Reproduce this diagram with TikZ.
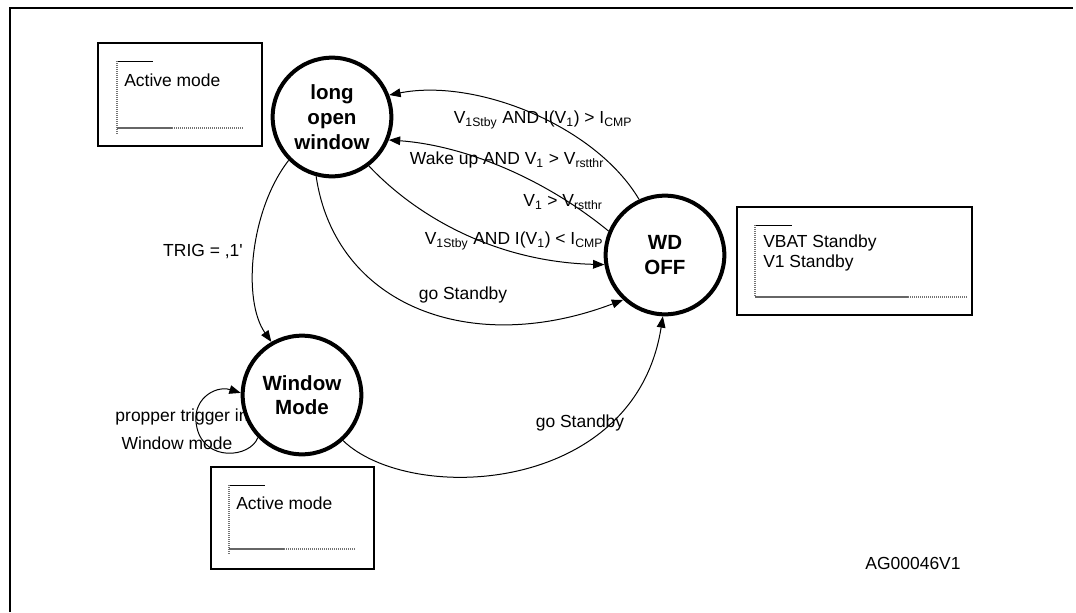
\documentclass[tikz,border=0pt]{standalone}
\usepackage{fontspec}
\setmainfont{Liberation Sans}
\usetikzlibrary{arrows.meta}
\begin{document}
\begin{tikzpicture}[x=0.75pt,y=-0.75pt,
  state/.style={circle,draw,line width=3pt,minimum size=89pt,inner sep=0pt,align=center,
    font=\fontsize{15.4}{18.5}\selectfont\bfseries},
  lbl/.style={inner sep=0pt,font=\fontsize{13.1}{15.5}\selectfont},
  conn/.style={line width=0.75pt,-{Triangle[length=8.5pt,width=6.5pt]}},
  infobox/.style={draw,line width=1.1pt},
  guide/.style={line width=0.6pt,black},
  greyguide/.style={line width=0.8pt,black!60},
  dotguide/.style={line width=0.8pt,black!55,dash pattern=on 0.75pt off 0.75pt},
]
\useasboundingbox (0,0) rectangle (1076,612);
% outer frame
\draw[line width=1.5pt] (10,612) -- (10,7.8) -- (1073,7.8);

% info boxes
\draw[infobox] (98,43) rectangle (262,146);
\draw[guide] (117,61) -- (153,61);
\draw[dotguide] (117,61) -- (117,134);
\draw[greyguide] (117,128) -- (172,128);
\draw[dotguide] (172,128) -- (244,128);
\node[lbl,anchor=west] (box1txt) at (124,80) {Active mode};

\draw[infobox] (737,207) rectangle (972,315);
\draw[guide] (755,225) -- (792,225);
\draw[dotguide] (755,225) -- (755,297);
\draw[greyguide] (755,297) -- (908,297);
\draw[dotguide] (908,297) -- (968,297);
\node[lbl,anchor=west] (box2txta) at (763,243) {VBAT Standby};
\node[lbl,anchor=west] (box2txtb) at (763,263) {V1 Standby};

\draw[infobox] (211,467) rectangle (374,569);
\draw[guide] (229,485) -- (265,485);
\draw[dotguide] (229,485) -- (229,555);
\draw[greyguide] (229,549) -- (284,549);
\draw[dotguide] (284,549) -- (356,549);
\node[lbl,anchor=west] (box3txt) at (236,503) {Active mode};

% states
\node[state] (low) at (332,117) {long\\open\\window};
\node[state] (wd) at (665,255) {WD\\OFF};
\node[state] (wm) at (302,395) {Window\\Mode};

% connectors
\draw[conn] (wd.115) .. controls (595,125) and (475,78) .. (low.21);
\draw[conn] (wd.157) .. controls (540,175) and (460,145) .. (low.-22);
\draw[conn] (low.-53) .. controls (420,220) and (500,262) .. (wd.189);
\draw[conn] (low.-105) .. controls (335,305) and (470,358) .. (wd.227);
\draw[conn] (low.-135) .. controls (250,210) and (242,300) .. (wm.120);
\draw[conn] (wm.-48) .. controls (410,505) and (635,495) .. (wd.-92);
\draw[conn] (wm.-136) .. controls (250,458) and (205,462) .. (197,428)
  .. controls (190,400) and (215,385) .. (wm.178);

% labels
\node[lbl] (l1) at (543,120) {V\textsubscript{1Stby} AND I(V\textsubscript{1}) > I\textsubscript{CMP}};
\node[lbl] (l2) at (507,160) {Wake up AND V\textsubscript{1} > V\textsubscript{rstthr}};
\node[lbl] (l3) at (563,202) {V\textsubscript{1} > V\textsubscript{rstthr}};
\node[lbl] (l4) at (514,241) {V\textsubscript{1Stby} AND I(V\textsubscript{1}) < I\textsubscript{CMP}};
\node[lbl] (l5) at (463,295) {go Standby};
\node[lbl] (l6) at (580,423) {go Standby};
\node[lbl] (l7) at (203,252) {TRIG = ,1\textquotesingle};
\node[lbl] (l8) at (182,417) {propper trigger in};
\node[lbl] (l9) at (177,443) {Window mode};
\node[lbl] (ag) at (913,563) {AG00046V1};
\end{tikzpicture}
\end{document}
